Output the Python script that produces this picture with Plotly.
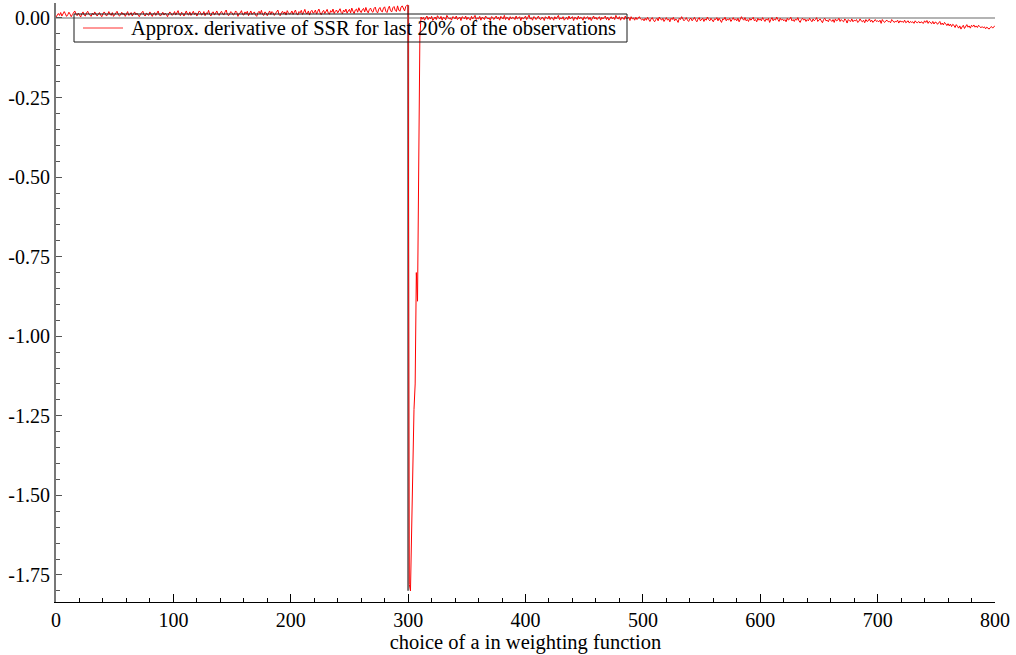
import plotly.graph_objects as go

# Grid of the weighting-function parameter a
a_values = list(range(0, 801))

# Approximate derivative of the SSR, in thousandths, for consecutive ranges of a
deriv_0_99 = [
    3, 9, 14, 8, 17, 6, 12, 20, 13, 5, 10, 18, 12, 4, 11, 16, 22, 12, 7, 15,
    10, 3, 13, 19, 9, 6, 16, 21, 12, 8, 5, 15, 10, 19, 12, 6, 11, 17, 9, 4,
    13, 19, 14, 6, 11, 20, 12, 8, 17, 5, 10, 15, 21, 12, 6, 9, 18, 11, 14, 5,
    12, 20, 8, 11, 17, 6, 13, 19, 10, 15, 9, 4, 12, 17, 21, 10, 6, 15, 12, 8,
    19, 11, 5, 13, 17, 8, 14, 22, 10, 6, 12, 18, 9, 15, 11, 4, 13, 19, 14, 8,
]
deriv_100_199 = [
    12, 20, 9, 16, 23, 11, 7, 18, 14, 6, 16, 22, 12, 9, 19, 8, 14, 21, 11, 16,
    6, 14, 22, 18, 9, 12, 20, 7, 16, 13, 24, 11, 6, 17, 19, 9, 14, 22, 12, 8,
    16, 21, 13, 9, 19, 25, 11, 7, 14, 20, 16, 9, 12, 22, 18, 5, 14, 16, 23, 11,
    9, 19, 13, 21, 7, 16, 22, 11, 14, 19, 9, 5, 16, 21, 13, 24, 11, 8, 19, 16,
    7, 14, 22, 11, 20, 16, 8, 14, 19, 25, 11, 7, 16, 21, 13, 19, 9, 23, 16, 12,
]
deriv_200_299 = [
    15, 22, 11, 18, 25, 13, 9, 20, 16, 24, 11, 18, 27, 15, 13, 22, 9, 20, 24, 15,
    17, 25, 12, 21, 28, 16, 10, 19, 24, 14, 21, 27, 15, 12, 23, 18, 28, 14, 21, 25,
    16, 23, 29, 17, 13, 25, 19, 28, 15, 22, 27, 16, 31, 21, 14, 25, 28, 18, 32, 22,
    17, 26, 30, 19, 33, 22, 16, 27, 31, 21, 18, 30, 34, 20, 16, 28, 33, 22, 19, 31,
    35, 21, 17, 29, 37, 23, 19, 32, 36, 24, 20, 38, 25, 21, 34, 38, 26, 22, 36, 40,
]
deriv_300_310 = [40, -1780, -1800, -1560, -1370, -1230, -1150, -800, -890, -420, -60]
deriv_311_499 = [
    3, -4, 2, -7, 0, 6, -5, 2, -3, 5, -8, 0, 3, -5, 7, 1, -3, 5, -7, 2,
    0, -6, 8, 2, -3, 0, -7, 4, 2, -3, 6, -5, 0, 3, -8, 4, 1, -3, 6, -5,
    2, -1, -7, 5, -3, 2, 8, -5, 0, -3, 5, -7, 2, 0, -5, 6, 2, -3, 0, -8,
    4, 2, -5, 0, 6, -3, 2, -7, 5, 0, -3, 8, -5, 2, 0, -7, 4, -3, 2, 0,
    -5, 6, -3, 0, 4, -8, 2, -3, 0, 6, -5, 2, 9, -3, 0, -7, 4, 2, -5, 0,
    6, -3, -5, 2, 0, -8, 4, 0, -3, 6, -5, 2, 0, -7, 4, -3, 2, 8, -5, 0,
    -3, 4, -7, 0, 2, -5, 6, -3, 0, 4, -8, 2, 0, -5, 6, -3, 2, 0, -7, 4,
    -3, 0, 4, -5, 2, -8, 0, 6, -3, 2, -5, 0, 4, -7, 2, -3, 0, 6, -5, 2,
    -7, 0, 4, -3, 2, -5, 8, 0, -3, 4, -7, 2, 0, -5, 6, -3, 0, 2, -8,
    4, -3, 0, -7, 2, -5, 0, 4, -3, -6,
]
deriv_500_739 = [
    -3, -9, -1, -7, 2, -5, -11, -3, 1, -7, -12, -5, -1, -9, 3, -3, -7, -1, -11, -5,
    1, -7, -3, -12, -1, -5, 2, -9, -3, -7, -14, -1, -5, 4, -3, -9, -5, 1, -7, -11,
    -3, -1, -9, -5, 2, -7, -12, -3, 1, -9, -5, -1, -11, -3, -7, 3, -5, -9, -1, -7,
    -12, -3, -5, 1, -9, -1, -7, -14, -3, -5, 2, -9, -3, -7, -1, -11, -5, 1, -7, -3,
    -9, -1, -12, -5, 4, -3, -7, 1, -9, -5, -11, -1, -7, -3, 2, -9, -5, -12, -1, -7,
    -3, -9, 1, -5, -11, -3, -7, -1, -14, -5, 1, -9, -3, -7, 3, -5, -11, -1, -7, -3,
    -9, -5, -12, -1, -7, -3, 2, -9, -5, -11, -3, -7, 1, -9, -14, -5, -1, -7, -3, -11,
    -5, -9, -1, -7, -12, -3, -9, -5, 1, -11, -7, -3, -9, -15, -5, -1, -9, -7, -12, -3,
    -7, -11, -5, -14, -3, -9, -7, -1, -11, -5, -9, -12, -3, -7, -16, -5, -9, -11, -3, -12,
    -7, -9, -5, -14, -11, -3, -9, -12, -7, -15, -5, -11, -9, -3, -12, -7, -14, -9, -5, -11,
    -9, -12, -7, -17, -5, -11, -14, -9, -7, -12, -11, -15, -5, -9, -14, -11, -12, -7, -16, -9,
    -12, -11, -14, -7, -15, -12, -9, -16, -11, -14, -12, -17, -9, -14, -15, -11, -16, -12, -14, -17,
]
deriv_740_800 = [
    -9, -14, -8, -17, -11, -15, -18, -11, -19, -13,
    -14, -20, -15, -11, -21, -16, -22, -14, -18, -24,
    -18, -25, -19, -27, -20, -23, -30, -21, -26, -32,
    -25, -35, -28, -23, -33, -26, -21, -29, -25, -32,
    -23, -27, -22, -29, -25, -30, -23, -27, -31, -27,
    -31, -28, -34, -29, -32, -35, -30, -27, -32, -26,
    -24,
]

deriv_milli = (deriv_0_99 + deriv_100_199 + deriv_200_299 + deriv_300_310
               + deriv_311_499 + deriv_500_739 + deriv_740_800)
deriv = [v / 1000 for v in deriv_milli]

# Vertical marker at the break point
break_a = [300, 300]
break_span = [0.040, -1.800]

series_label = "Approx. derivative of SSR for last 20% of the observations"
x_title = "choice of a in weighting function"
y_tick_vals = [0.0, -0.25, -0.5, -0.75, -1.0, -1.25, -1.5, -1.75]
y_tick_text = ["0.00", "-0.25", "-0.50", "-0.75", "-1.00", "-1.25", "-1.50", "-1.75"]
x_tick_vals = [0, 100, 200, 300, 400, 500, 600, 700, 800]

SERIF = "Liberation Serif, Times New Roman, serif"
W, H = 1016, 655
M_L, M_R, M_T, M_B = 56, 21, 3, 53
PW, PH = W - M_L - M_R, H - M_T - M_B


def px_x(px):
    """Horizontal pixel position -> paper coordinate."""
    return (px - M_L) / PW


def px_y(py):
    """Vertical pixel position -> paper coordinate."""
    return (H - M_B - py) / PH


fig = go.Figure()
fig.add_trace(go.Scatter(
    x=break_a, y=break_span, mode="lines",
    line=dict(color="#707070", width=2), showlegend=False, hoverinfo="skip",
))
fig.add_trace(go.Scatter(
    x=a_values, y=deriv, mode="lines",
    line=dict(color="#ff0000", width=1),
    name=series_label, showlegend=False,
))

# Legend box drawn as a transparent frame so the series shows through it
fig.add_shape(type="rect", xref="paper", yref="paper",
              x0=px_x(74), x1=px_x(627), y0=px_y(42), y1=px_y(14),
              line=dict(color="#1a1a1a", width=1), fillcolor="rgba(0,0,0,0)")
fig.add_shape(type="line", xref="paper", yref="paper",
              x0=px_x(83), x1=px_x(123), y0=px_y(28), y1=px_y(28),
              line=dict(color="#ff3030", width=1))
fig.add_annotation(xref="paper", yref="paper", x=px_x(129), y=px_y(28.5),
                   xanchor="left", yanchor="middle", showarrow=False,
                   text=series_label,
                   font=dict(family=SERIF, size=20.5, color="black"))

fig.update_layout(
    width=W, height=H,
    margin=dict(l=M_L, r=M_R, t=M_T, b=M_B),
    paper_bgcolor="white", plot_bgcolor="white",
    font=dict(family=SERIF, size=20, color="black"),
    showlegend=False,
    xaxis=dict(
        range=[0, 800], tickvals=x_tick_vals,
        ticks="inside", ticklen=8, tickwidth=1, tickcolor="black",
        minor=dict(dtick=20, ticks="inside", ticklen=4, tickcolor="black"),
        showline=True, linecolor="black", linewidth=1,
        showgrid=False, zeroline=False,
        title=dict(text=x_title, standoff=4,
                   font=dict(family=SERIF, size=20.5)),
        tickfont=dict(family=SERIF, size=20),
    ),
    yaxis=dict(
        range=[-1.835, 0.047], tickvals=y_tick_vals, ticktext=y_tick_text,
        ticks="inside", ticklen=6, tickwidth=1, tickcolor="#555555",
        minor=dict(dtick=0.05, tick0=0, ticks="inside", ticklen=4, tickcolor="#555555"),
        showline=True, linecolor="#777777", linewidth=2,
        showgrid=False,
        zeroline=True, zerolinecolor="#b4b4b4", zerolinewidth=2,
        tickfont=dict(family=SERIF, size=20),
    ),
)

fig.write_html("out.html")
